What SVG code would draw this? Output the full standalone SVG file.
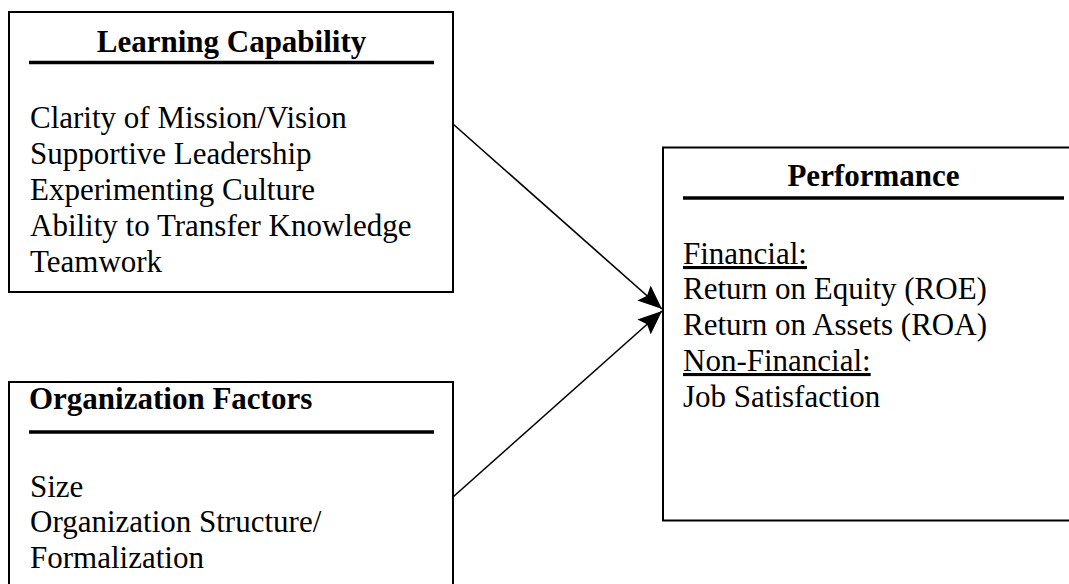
<svg xmlns="http://www.w3.org/2000/svg" width="1069" height="584" viewBox="0 0 1069 584">
  <style>
    .box { fill: #ffffff; stroke: #000000; stroke-width: 2; }
    .rule { stroke: #000000; stroke-width: 3.5; }
    .title { font-family: "Liberation Serif", "Times New Roman", serif; font-size: 31px; font-weight: bold; fill: #000000; }
    .item { font-family: "Liberation Serif", "Times New Roman", serif; font-size: 31px; fill: #000000; }
    .ul { text-decoration: underline; }
    .link { fill: none; stroke: #000000; stroke-width: 1.6; marker-end: url(#head); }
  </style>
  <defs>
    <marker id="head" viewBox="0 0 24 20" markerWidth="24" markerHeight="20" refX="24" refY="10" orient="auto" markerUnits="userSpaceOnUse">
      <path d="M0,0 L24,10 L0,20 L4,10 z" fill="#000000"/>
    </marker>
  </defs>

  <rect width="1069" height="584" fill="#ffffff"/>

  <!-- Learning Capability -->
  <g id="learning-capability">
    <rect class="box" x="9" y="12" width="444" height="280"/>
    <text class="title" x="231.5" y="52" text-anchor="middle">Learning Capability</text>
    <line class="rule" x1="29" y1="62.5" x2="434" y2="62.5"/>
    <text class="item" x="30" y="128">Clarity of Mission/Vision</text>
    <text class="item" x="30" y="164">Supportive Leadership</text>
    <text class="item" x="30" y="200">Experimenting Culture</text>
    <text class="item" x="30" y="236">Ability to Transfer Knowledge</text>
    <text class="item" x="30" y="272">Teamwork</text>
  </g>

  <!-- Organization Factors -->
  <g id="organization-factors">
    <rect class="box" x="9" y="382" width="444" height="220"/>
    <text class="title" x="29" y="409">Organization Factors</text>
    <line class="rule" x1="29" y1="432" x2="434" y2="432"/>
    <text class="item" x="30" y="497">Size</text>
    <text class="item" x="30" y="532">Organization Structure/</text>
    <text class="item" x="30" y="568">Formalization</text>
  </g>

  <!-- Performance -->
  <g id="performance">
    <rect class="box" x="663" y="147.5" width="420" height="373"/>
    <text class="title" x="873.5" y="186" text-anchor="middle">Performance</text>
    <line class="rule" x1="683" y1="198" x2="1064" y2="198"/>
    <text class="item ul" x="683" y="264">Financial:</text>
    <text class="item" x="683" y="299">Return on Equity (ROE)</text>
    <text class="item" x="683" y="335">Return on Assets (ROA)</text>
    <text class="item ul" x="683" y="371">Non-Financial:</text>
    <text class="item" x="683" y="407">Job Satisfaction</text>
  </g>

  <!-- Connectors -->
  <g id="connectors">
    <line class="link" x1="453" y1="124" x2="662" y2="309"/>
    <line class="link" x1="453" y1="497" x2="662" y2="311"/>
  </g>
</svg>
